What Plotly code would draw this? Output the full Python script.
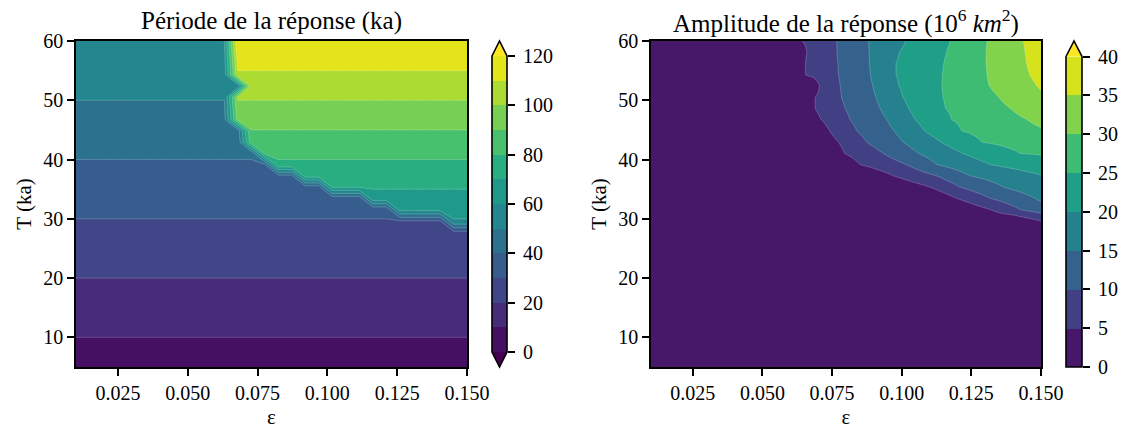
import numpy as np
import plotly.graph_objects as go

# ---------------- data ----------------
# sampling grid of the simulations
eps_samples = np.linspace(0.01, 0.15, 30)      # epsilon
T_samples = np.linspace(5.0, 60.0, 30)         # forcing period T (ka)

# epsilon at which the response period doubles (first doubled column), per T row
doubling_onset_eps = [None, None, None, None, None, None, None, None, None, None,
                      None, None, None, 0.1452, 0.1259, 0.1162, 0.1017, 0.0921,
                      0.0824, 0.0776, 0.0728, 0.0728, 0.0679, 0.0679, 0.0679,
                      0.0728, 0.0679, 0.0679, 0.0679, 0.0679]

# amplitude (10^6 km^2): epsilon where each level is reached, for T rows 13..29
amp_levels = [5, 10, 15, 20, 25, 30, 35]
amp_first_row = 13
amp_level_eps = [
    [0.1497],
    [0.1318, 0.1425],
    [0.1198, 0.1318, 0.1480],
    [0.1102, 0.1210, 0.1366],
    [0.0971, 0.1126, 0.1246],
    [0.0851, 0.1018, 0.1126, 0.1318],
    [0.0795, 0.0935, 0.1060, 0.1219, 0.1425],
    [0.0773, 0.0875, 0.1006, 0.1142, 0.1288],
    [0.0741, 0.0839, 0.0973, 0.1082, 0.1216],
    [0.0711, 0.0815, 0.0947, 0.1048, 0.1180, 0.1450],
    [0.0689, 0.0797, 0.0923, 0.1024, 0.1157, 0.1390],
    [0.0689, 0.0784, 0.0908, 0.1004, 0.1148, 0.1348],
    [0.0705, 0.0779, 0.0896, 0.0990, 0.1144, 0.1314, 0.1485],
    [0.0653, 0.0773, 0.0888, 0.0980, 0.1146, 0.1306, 0.1459],
    [0.0653, 0.0771, 0.0884, 0.0979, 0.1151, 0.1303, 0.1448],
    [0.0659, 0.0768, 0.0883, 0.0992, 0.1161, 0.1303, 0.1443],
    [0.0641, 0.0767, 0.0881, 0.1015, 0.1175, 0.1306, 0.1437],
]
amp_edge = [5.2, 12.3, 16.1, 18.0, 19.8, 22.6, 25.4, 27.4, 29.5, 31.2, 32.8,
            34.4, 35.4, 36.3, 36.8, 37.0, 37.4]     # amplitude at epsilon = 0.15
amp_locked = 1.0                                   # locked response, 0-5 band

x_ticks = [0.025, 0.050, 0.075, 0.100, 0.125, 0.150]
x_ticktext = ["0.025", "0.050", "0.075", "0.100", "0.125", "0.150"]
y_ticks = [10, 20, 30, 40, 50, 60]
period_cbar_ticks = [0, 20, 40, 60, 80, 100, 120]
amp_cbar_ticks = [0, 5, 10, 15, 20, 25, 30, 35, 40]

# ---------------- build fields ----------------
period = np.zeros((len(T_samples), len(eps_samples)))
for i, T in enumerate(T_samples):
    onset = doubling_onset_eps[i]
    for j, e in enumerate(eps_samples):
        doubled = onset is not None and e >= onset - 1e-4
        period[i, j] = 2 * T if doubled else T

eps_fine = np.linspace(0.01, 0.15, 281)
amp = np.full((len(T_samples), len(eps_fine)), amp_locked)
for k, cross in enumerate(amp_level_eps):
    i = amp_first_row + k
    onset = doubling_onset_eps[i]
    eps_last_locked = eps_samples[eps_samples < onset - 1e-4].max()
    xs = [eps_last_locked] + list(cross) + [0.15]
    ys = [amp_locked] + amp_levels[:len(cross)] + [amp_edge[k]]
    row = np.interp(eps_fine, xs, ys)
    row[eps_fine <= eps_last_locked] = amp_locked
    amp[i] = row

# ---------------- colours (matplotlib viridis) ----------------
VIR = ["#440154", "#471365", "#482475", "#463480", "#414487", "#3b528b", "#355f8d",
       "#2f6c8e", "#2a788e", "#25848e", "#21918c", "#1e9c89", "#22a884", "#2fb47c",
       "#44bf70", "#5ec962", "#7ad151", "#9bd93c", "#bddf26", "#dfe318", "#fde725"]


def viridis(t):
    t = min(max(t, 0.0), 1.0) * 20
    i = min(int(np.floor(t)), 19)
    f = t - i
    a = [int(VIR[i][k:k + 2], 16) for k in (1, 3, 5)]
    b = [int(VIR[i + 1][k:k + 2], 16) for k in (1, 3, 5)]
    c = [round(a[m] + (b[m] - a[m]) * f) for m in range(3)]
    return "rgb(%d,%d,%d)" % tuple(c)


def band_colors(nb):
    return [viridis((k + 0.5) / nb) for k in range(nb)]


def contour_scale(cols):
    # plotly fill colour of band k sits at (k+1)/(nb+1); make steps around it
    nb = len(cols)
    seq = [cols[0]] + cols + [cols[-1]]
    n = nb + 1
    cs = []
    for k, c in enumerate(seq):
        lo = max(0.0, (k - 0.5) / n)
        hi = min(1.0, (k + 0.5) / n)
        cs.append([lo, c])
        cs.append([hi, c])
    return cs


def bar_scale(cols):
    nb = len(cols)
    cs = []
    for k, c in enumerate(cols):
        cs.append([k / nb, c])
        cs.append([(k + 1) / nb, c])
    return cs


pcols = band_colors(12)
acols = band_colors(8)

FONT = "Liberation Serif"
W, H = 1126, 429


def px(x):
    return x / W


def py(y):
    return 1 - y / H


fig = go.Figure()

line_style = dict(width=0.6, color="rgba(255,255,255,0.35)", smoothing=0)

fig.add_trace(go.Contour(
    x=eps_samples, y=T_samples, z=period, xaxis="x", yaxis="y",
    autocontour=False,
    contours=dict(start=0, end=120, size=10, coloring="fill", showlines=True),
    line=line_style, colorscale=contour_scale(pcols), showscale=False,
    hoverinfo="skip"))

fig.add_trace(go.Contour(
    x=eps_fine, y=T_samples, z=amp, xaxis="x2", yaxis="y2",
    autocontour=False,
    contours=dict(start=0, end=40, size=5, coloring="fill", showlines=True),
    line=line_style, colorscale=contour_scale(acols), showscale=False,
    hoverinfo="skip"))

# colour bars drawn as heatmaps
pm = [5 + 10 * k for k in range(12)]
fig.add_trace(go.Heatmap(x=[0], y=pm, z=[[m] for m in pm], zmin=0, zmax=120,
                         colorscale=bar_scale(pcols), showscale=False,
                         xaxis="x3", yaxis="y3", hoverinfo="skip"))
am = [2.5 + 5 * k for k in range(8)]
fig.add_trace(go.Heatmap(x=[0], y=am, z=[[m] for m in am], zmin=0, zmax=40,
                         colorscale=bar_scale(acols), showscale=False,
                         xaxis="x4", yaxis="y4", hoverinfo="skip"))

tickfont = dict(family=FONT, size=20, color="black")
axis_common = dict(showline=True, linecolor="black", linewidth=1.6, mirror=True,
                   ticks="outside", ticklen=7, tickwidth=1.6, tickcolor="black",
                   showgrid=False, zeroline=False, tickfont=tickfont,
                   automargin=False)
cbar_common = dict(side="right", ticks="outside", ticklen=7, tickwidth=1.6,
                   tickcolor="black", showline=False, showgrid=False,
                   zeroline=False, tickfont=tickfont, automargin=False,
                   ticklabelstandoff=4)

L1, R1 = 76, 467
L2, R2 = 651, 1041
TOP, BOT = 41, 367
xtitle = dict(text="ε", font=dict(family=FONT, size=21), standoff=8)
ytitle = dict(text="T (ka)", font=dict(family=FONT, size=21), standoff=6)

fig.update_layout(
    width=W, height=H, template="none",
    margin=dict(l=0, r=0, t=0, b=0, pad=0),
    paper_bgcolor="white", plot_bgcolor="white",
    showlegend=False,
    font=dict(family=FONT, size=20, color="black"),
    xaxis=dict(domain=[px(L1), px(R1)], range=[0.01, 0.15], anchor="y",
               tickvals=x_ticks, ticktext=x_ticktext, title=xtitle, **axis_common),
    yaxis=dict(domain=[py(BOT), py(TOP)], range=[5, 60], anchor="x",
               tickvals=y_ticks, title=ytitle, **axis_common),
    xaxis2=dict(domain=[px(L2), px(R2)], range=[0.01, 0.15], anchor="y2",
                tickvals=x_ticks, ticktext=x_ticktext, title=xtitle, **axis_common),
    yaxis2=dict(domain=[py(BOT), py(TOP)], range=[5, 60], anchor="x2",
                tickvals=y_ticks, title=ytitle, **axis_common),
    xaxis3=dict(domain=[px(492), px(507)], range=[-0.5, 0.5], anchor="y3",
                visible=False, fixedrange=True),
    yaxis3=dict(domain=[py(352), py(56)], range=[0, 120], anchor="x3",
                tickvals=period_cbar_ticks, **cbar_common),
    xaxis4=dict(domain=[px(1066), px(1082)], range=[-0.5, 0.5], anchor="y4",
                visible=False, fixedrange=True),
    yaxis4=dict(domain=[py(367), py(56.5)], range=[0, 40], anchor="x4",
                tickvals=amp_cbar_ticks, **cbar_common),
)


def path(pts):
    s = "M " + " L ".join("%.5f,%.5f" % (px(x), py(y)) for x, y in pts) + " Z"
    return s


shapes = []
# left colour bar: extend both
shapes.append(dict(type="path", xref="paper", yref="paper", layer="above",
                   path=path([(492, 56), (499.5, 41), (507, 56)]),
                   fillcolor="#fde725", line=dict(width=0)))
shapes.append(dict(type="path", xref="paper", yref="paper", layer="above",
                   path=path([(492, 352), (499.5, 367), (507, 352)]),
                   fillcolor="#440154", line=dict(width=0)))
shapes.append(dict(type="path", xref="paper", yref="paper", layer="above",
                   path=path([(492, 56), (499.5, 41), (507, 56), (507, 352),
                              (499.5, 367), (492, 352)]),
                   fillcolor="rgba(0,0,0,0)", line=dict(color="black", width=1.6)))
# right colour bar: extend max
shapes.append(dict(type="path", xref="paper", yref="paper", layer="above",
                   path=path([(1066, 56.5), (1074, 41), (1082, 56.5)]),
                   fillcolor="#fde725", line=dict(width=0)))
shapes.append(dict(type="path", xref="paper", yref="paper", layer="above",
                   path=path([(1066, 56.5), (1074, 41), (1082, 56.5), (1082, 367),
                              (1066, 367)]),
                   fillcolor="rgba(0,0,0,0)", line=dict(color="black", width=1.6)))
fig.update_layout(shapes=shapes)

titlefont = dict(family=FONT, size=25, color="black")
fig.add_annotation(x=px((L1 + R1) / 2), y=py(21), xref="paper", yref="paper",
                   text="Période de la réponse (ka)", showarrow=False,
                   xanchor="center", yanchor="middle", font=titlefont)
fig.add_annotation(x=px((L2 + R2) / 2), y=py(21), xref="paper", yref="paper",
                   text="Amplitude de la réponse (10<sup>6</sup> <i>km</i><sup>2</sup>)",
                   showarrow=False, xanchor="center", yanchor="middle", font=titlefont)

fig.write_html("out.html")
